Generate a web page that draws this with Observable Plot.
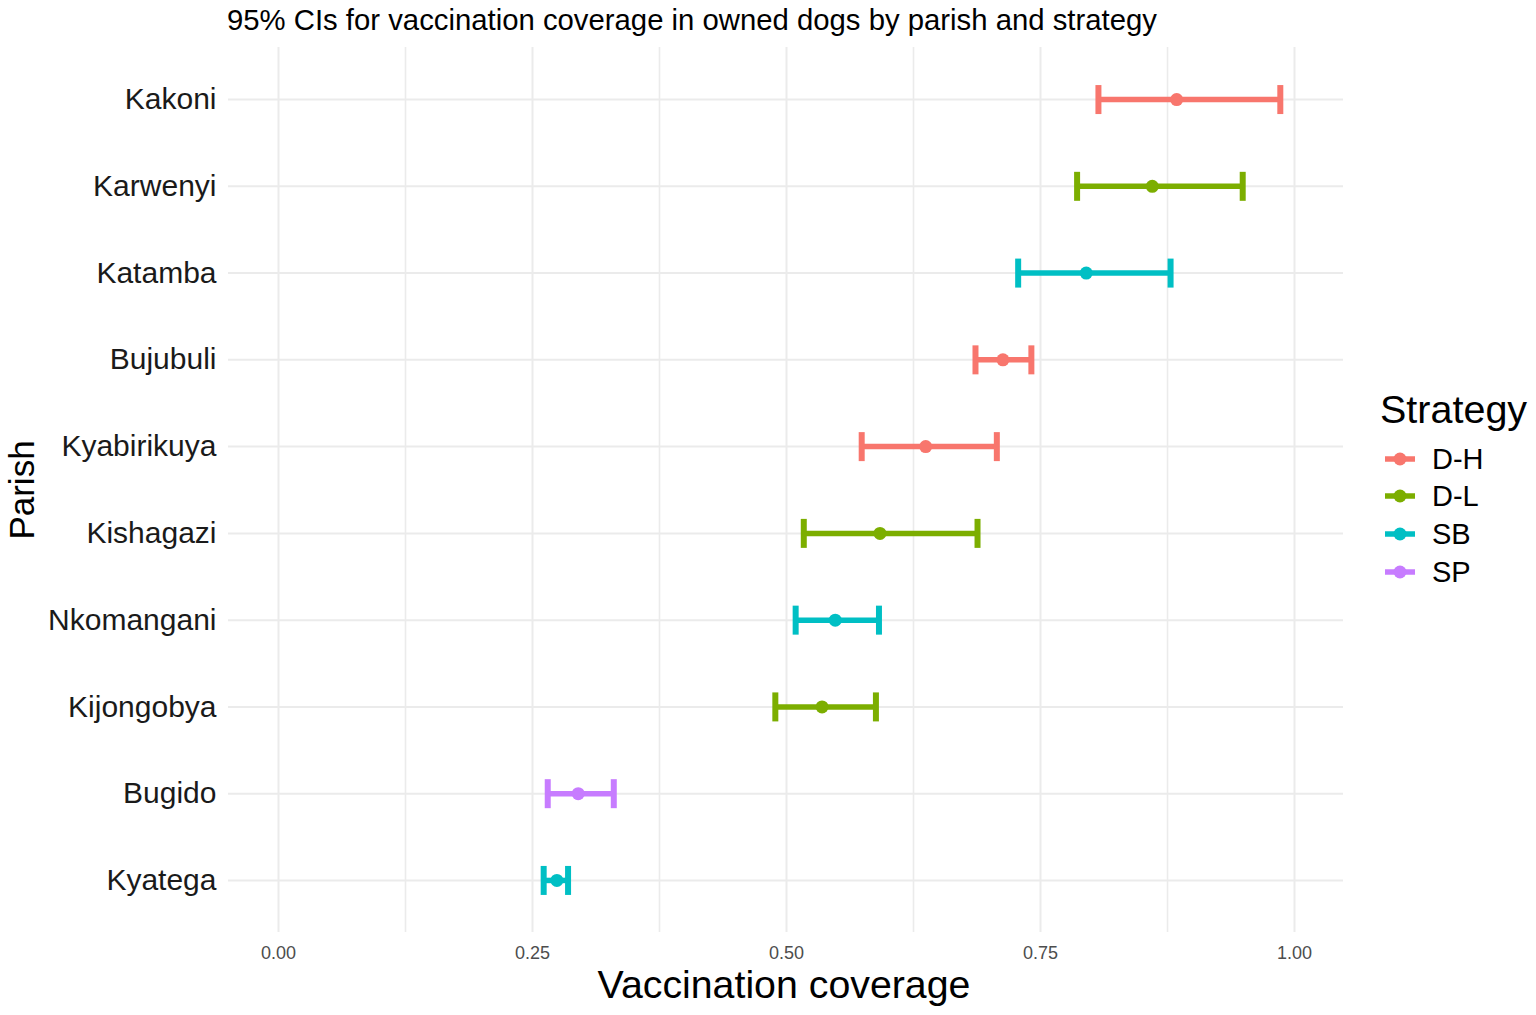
<!DOCTYPE html>
<html>
<head>
<meta charset="utf-8">
<script src="https://cdn.jsdelivr.net/npm/d3@7"></script>
<script src="https://cdn.jsdelivr.net/npm/@observablehq/plot@0.6"></script>
<style>
  html, body { margin: 0; padding: 0; background: #fff; }
  body { width: 1536px; height: 1015px; position: relative; overflow: hidden; font-family: "Liberation Sans", Arial, sans-serif; }
  #chart { position: absolute; left: 0; top: 0; }
  .abs { position: absolute; white-space: nowrap; color: #000; }
  #title { left: 227px; top: 3px; font-size: 29.3px; }
  #xtitle { left: 784px; top: 962px; font-size: 39.3px; transform: translateX(-50%); }
  #ytitle { left: 22px; top: 490px; font-size: 35px; transform: translate(-50%, -50%) rotate(-90deg); }
  #legtitle { left: 1380px; top: 387px; font-size: 39.5px; }
  .legitem { position: absolute; left: 1383px; height: 30px; display: flex; align-items: center; font-size: 29px; }
  .legitem svg { margin-right: 15px; }
</style>
</head>
<body>
<div id="chart"></div>
<div id="title" class="abs">95% CIs for vaccination coverage in owned dogs by parish and strategy</div>
<div id="xtitle" class="abs">Vaccination coverage</div>
<div id="ytitle" class="abs">Parish</div>
<div id="legtitle" class="abs">Strategy</div>
<div id="legend"></div>
<script>
// ---- data ----
const parishes = ["Kakoni","Karwenyi","Katamba","Bujubuli","Kyabirikuya","Kishagazi","Nkomangani","Kijongobya","Bugido","Kyatega"];
const parishStrategy = ["D-H","D-L","SB","D-H","D-H","D-L","SB","D-L","SP","SB"];
const estimate = [0.884,0.860,0.795,0.713,0.637,0.592,0.548,0.535,0.295,0.274];
const lower    = [0.807,0.786,0.728,0.686,0.574,0.517,0.509,0.489,0.265,0.261];
const upper    = [0.986,0.949,0.878,0.741,0.707,0.688,0.591,0.588,0.330,0.285];
const strategies = ["D-H","D-L","SB","SP"];
const strategyColors = ["#F8766D","#7CAE00","#00BFC4","#C77CFF"];
const xTicks = [0, 0.25, 0.5, 0.75, 1];
const xMinor = [0.125, 0.375, 0.625, 0.875];

const data = parishes.map((p, i) => ({parish: p, strategy: parishStrategy[i], est: estimate[i], lo: lower[i], hi: upper[i]}));

const capSymbol = { draw(ctx) { ctx.moveTo(0, -14.5); ctx.lineTo(0, 14.5); } };

const chart = Plot.plot({
  width: 1536,
  height: 1015,
  marginLeft: 228,
  marginRight: 193,
  marginTop: 47,
  marginBottom: 83,
  style: { fontFamily: "'Liberation Sans', Arial, sans-serif", background: "white" },
  x: { domain: [-0.0492, 1.0482] },
  y: { type: "point", domain: parishes, padding: 0.6, round: false },
  color: { domain: strategies, range: strategyColors },
  marks: [
    Plot.ruleX(xMinor, { stroke: "#EBEBEB", strokeWidth: 1.6 }),
    Plot.ruleX(xTicks, { stroke: "#EBEBEB", strokeWidth: 2 }),
    Plot.ruleY(parishes, { y: d => d, stroke: "#EBEBEB", strokeWidth: 2 }),
    Plot.axisX({ ticks: xTicks, tickFormat: d3.format(".2f"), tickSize: 0, tickPadding: 14, fontSize: 18, fill: "#4D4D4D", label: null }),
    Plot.axisY({ tickSize: 0, tickPadding: 12, fontSize: 30, fill: "#1A1A1A", label: null }),
    Plot.ruleY(data, { y: "parish", x1: "lo", x2: "hi", stroke: "strategy", strokeWidth: 5.5 }),
    Plot.dot(data, { x: "lo", y: "parish", symbol: capSymbol, fill: "none", stroke: "strategy", strokeWidth: 6 }),
    Plot.dot(data, { x: "hi", y: "parish", symbol: capSymbol, fill: "none", stroke: "strategy", strokeWidth: 6 }),
    Plot.dot(data, { x: "est", y: "parish", fill: "strategy", stroke: "none", r: 6.5 })
  ]
});
document.getElementById("chart").appendChild(chart);

// legend
const legend = document.getElementById("legend");
const legendTops = [444, 481, 519, 557];
strategies.forEach((s, i) => {
  const item = document.createElement("div");
  item.className = "legitem";
  item.style.top = legendTops[i] + "px";
  const c = strategyColors[i];
  item.innerHTML = `<svg width="34" height="30"><line x1="2" x2="32" y1="15" y2="15" stroke="${c}" stroke-width="5.5"/><circle cx="17" cy="15" r="6.5" fill="${c}"/></svg><span>${s}</span>`;
  legend.appendChild(item);
});
</script>
</body>
</html>
